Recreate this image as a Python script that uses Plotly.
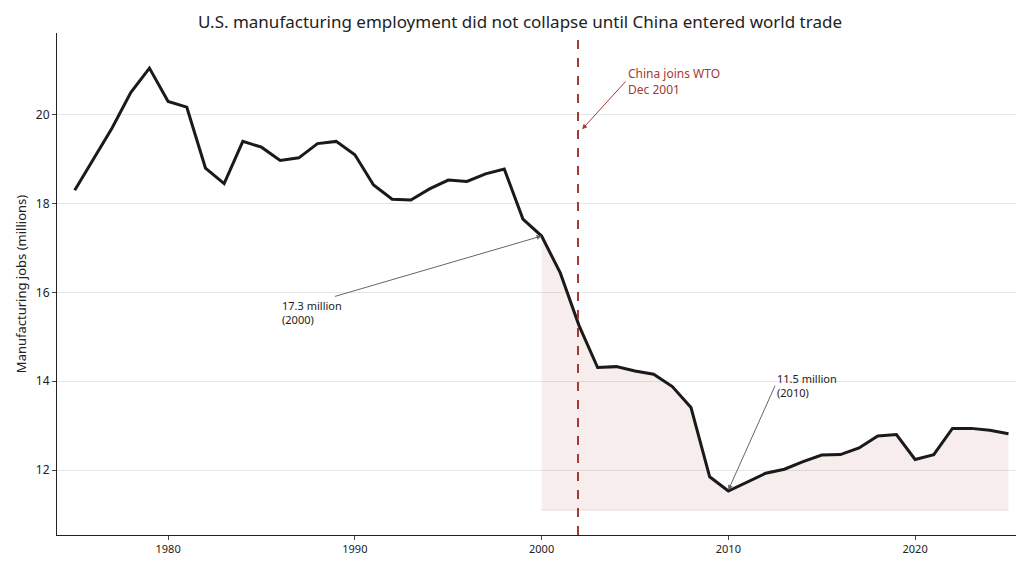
import plotly.graph_objects as go

years = list(range(1975, 2026))
jobs = [18.3, 19.0, 19.7, 20.5, 21.05, 20.3, 20.17, 18.8, 18.45, 19.4,
        19.27, 18.97, 19.03, 19.35, 19.4, 19.1, 18.42, 18.1, 18.08, 18.33,
        18.53, 18.5, 18.67, 18.78, 17.65, 17.27, 16.44, 15.26, 14.31, 14.33,
        14.23, 14.16, 13.88, 13.41, 11.85, 11.53, 11.73, 11.93, 12.02, 12.19,
        12.34, 12.35, 12.5, 12.77, 12.8, 12.24, 12.35, 12.94, 12.94, 12.9,
        12.82]

shade_start = 2000
shade_base = 11.1
wto_year = 2001.95

sx = [y for y in years if y >= shade_start]
sy = [v for y, v in zip(years, jobs) if y >= shade_start]

fig = go.Figure()

# baseline for the shaded region
fig.add_trace(go.Scatter(x=sx, y=[shade_base] * len(sx), mode='lines',
                         line=dict(color='rgba(200,120,120,0.25)', width=1),
                         hoverinfo='skip', showlegend=False))
fig.add_trace(go.Scatter(x=sx, y=sy, mode='lines', fill='tonexty',
                         fillcolor='rgba(200,110,110,0.12)',
                         line=dict(color='rgba(200,120,120,0.25)', width=1),
                         hoverinfo='skip', showlegend=False))

# main line
fig.add_trace(go.Scatter(x=years, y=jobs, mode='lines',
                         line=dict(color='#1a1a1a', width=3),
                         showlegend=False))

fig.add_vline(x=wto_year, line=dict(color='#a33a33', width=2, dash='dash'))

fig.add_annotation(x=2002.1, y=19.64, ax=2004.5, ay=20.75, axref='x', ayref='y',
                   text='China joins WTO<br>Dec 2001', showarrow=True, standoff=2,
                   arrowhead=2, arrowsize=1, arrowwidth=1, arrowcolor='#a33a33',
                   font=dict(color='#a33a33', size=12), align='left', xanchor='left')
fig.add_annotation(x=2000, y=17.27, ax=1986.0, ay=15.55, axref='x', ayref='y',
                   text='17.3 million<br>(2000)', showarrow=True,
                   arrowhead=2, arrowwidth=1, arrowcolor='#666',
                   font=dict(color='#222', size=11), align='left', xanchor='left')
fig.add_annotation(x=2010, y=11.55, ax=2012.5, ay=13.9, axref='x', ayref='y',
                   text='11.5 million<br>(2010)', showarrow=True,
                   arrowhead=2, arrowwidth=1, arrowcolor='#666',
                   font=dict(color='#222', size=11), align='left', xanchor='left')

fig.update_layout(
    title=dict(text='U.S. manufacturing employment did not collapse until China entered world trade',
               x=0.5, y=0.985, font=dict(size=17, color='#222')),
    width=1024, height=570,
    margin=dict(l=49, r=3, t=25, b=43),
    plot_bgcolor='white', paper_bgcolor='white',
    font=dict(family='Noto Sans', size=12, color='#222'),
    xaxis=dict(range=[1974.05, 2026.1], tickvals=[1980, 1990, 2000, 2010, 2020],
               showgrid=False, showline=True, linecolor='#222', ticks='outside',
               ticklen=4, zeroline=False, tickfont=dict(size=11)),
    yaxis=dict(range=[10.54, 21.84], tickvals=[12, 14, 16, 18, 20],
               title=dict(text='Manufacturing jobs (millions)', standoff=6, font=dict(size=13)),
               showgrid=True, gridcolor='#e6e6e6', showline=True, linecolor='#222',
               ticks='outside', ticklen=4, zeroline=False, automargin=False),
)

fig.write_html("out.html")
